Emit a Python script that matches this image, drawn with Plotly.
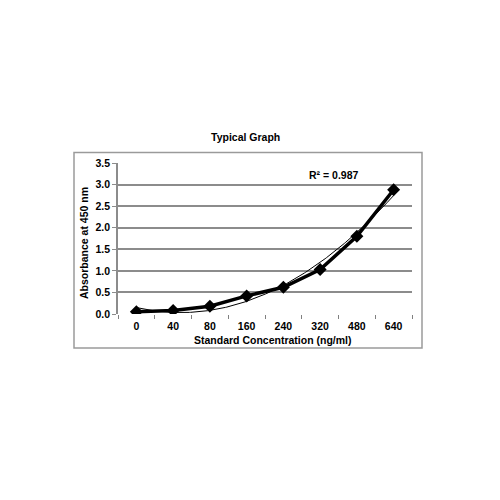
import numpy as np
import plotly.graph_objects as go

categories = ["0", "40", "80", "160", "240", "320", "480", "640"]
absorbance = [0.05, 0.08, 0.18, 0.42, 0.62, 1.03, 1.80, 2.88]
y_ticks = [0.0, 0.5, 1.0, 1.5, 2.0, 2.5, 3.0, 3.5]

idx = np.arange(1, len(categories) + 1)
coef = np.polyfit(idx, absorbance, 2)
xs = np.linspace(1, len(categories), 200)
ys = np.polyval(coef, xs)
pred = np.polyval(coef, idx)
r2 = 1 - np.sum((np.array(absorbance) - pred) ** 2) / np.sum((np.array(absorbance) - np.mean(absorbance)) ** 2)

FONT = "Liberation Sans"
FS = 10.5
fig = go.Figure()
fig.add_trace(go.Scatter(x=xs, y=ys, mode="lines", line=dict(color="black", width=1), hoverinfo="skip"))
fig.add_trace(go.Scatter(x=idx, y=absorbance, mode="lines+markers",
                         line=dict(color="black", width=3.5),
                         marker=dict(symbol="diamond", size=10, color="black")))

OFF = 8  # page offset
L, T = 118 - OFF, 163 - OFF
W, H = 294, 151
R, B = 500 - L - W, 500 - T - H

def px(x):
    return (x - OFF - L) / W

def py(y):
    return (T + H - (y - OFF)) / H

fig.update_layout(
    width=500, height=500, showlegend=False,
    paper_bgcolor="white", plot_bgcolor="white",
    margin=dict(l=L, r=R, t=T, b=B, autoexpand=False),
    font=dict(family=FONT, size=FS, color="black"),
    xaxis=dict(range=[0.5, len(categories) + 0.5], tickmode="array", tickvals=list(idx),
               ticktext=categories, showgrid=False, zeroline=False, ticks="",
               showline=False, ticklabelstandoff=4,
               tickfont=dict(family=FONT, size=FS, color="black", weight="bold"),
               minor=dict(tickmode="array", tickvals=[i + 0.5 for i in range(len(categories) + 1)],
                          ticks="outside", ticklen=4, tickcolor="#808080", tickwidth=1, showgrid=False)),
    yaxis=dict(range=[0, 3.5], tickmode="array", tickvals=y_ticks,
               ticktext=[f"{v:.1f}" for v in y_ticks], showgrid=True, gridcolor="#8c8c8c",
               gridwidth=1.5, zeroline=False, showline=True, linecolor="#8c8c8c", linewidth=1.5,
               ticks="outside", ticklen=4, tickcolor="#8c8c8c",
               tickfont=dict(family=FONT, size=FS, color="black", weight="bold")),
)

fig.add_shape(type="rect", xref="paper", yref="paper",
              x0=px(74), x1=px(422), y0=py(348), y1=py(152.5),
              line=dict(color="#9a9a9a", width=1.5), fillcolor="rgba(0,0,0,0)", layer="below")

def note(text, x, y, angle=0):
    fig.add_annotation(text=f"<b>{text}</b>", xref="paper", yref="paper", x=px(x), y=py(y),
                       xanchor="center", yanchor="middle", showarrow=False, textangle=angle,
                       font=dict(family=FONT, size=FS, color="black"))

note("Typical Graph", 245, 137)
note(f"R² = {r2:.3f}", 333, 175)
note("Absorbance at 450 nm", 84, 243, -90)
note("Standard Concentration (ng/ml)", 273, 340)

fig.write_html("out.html")
